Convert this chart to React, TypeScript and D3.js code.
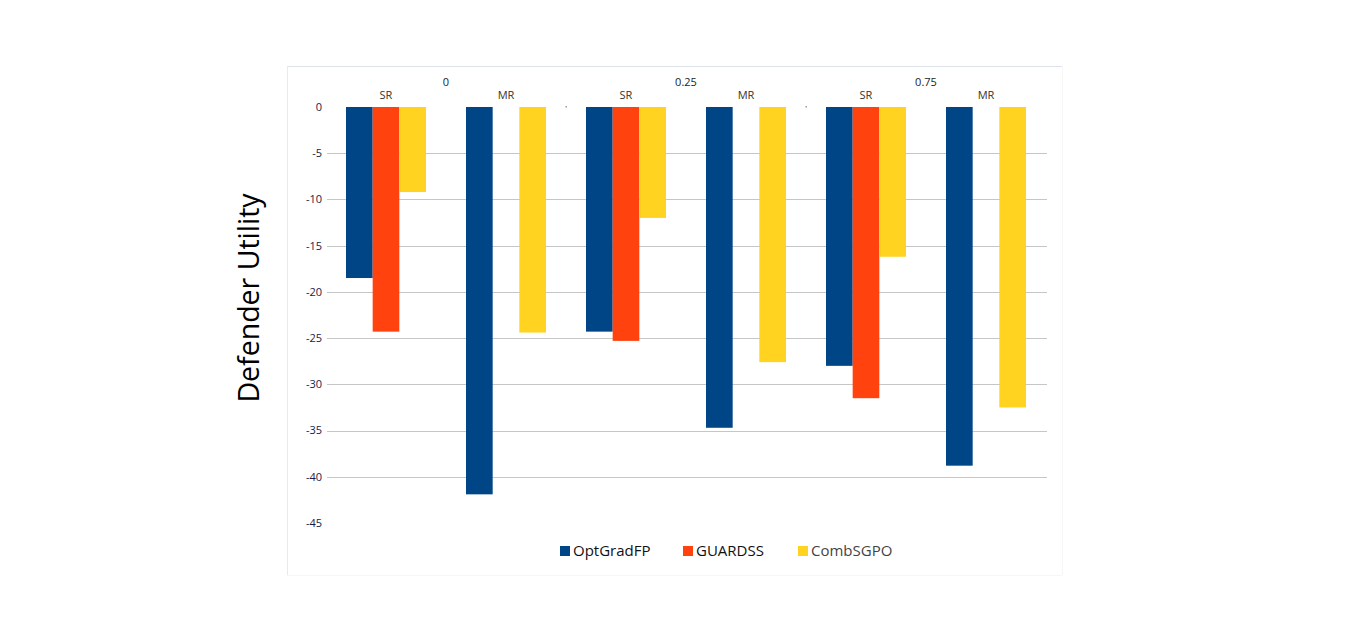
import { useEffect, useRef } from "react";
import * as d3 from "d3";

const categories = ["SR", "MR", "SR", "MR", "SR", "MR"];
const groups = ["0", "0.25", "0.75"];
const seriesNames = ["OptGradFP", "GUARDSS", "CombSGPO"];
const seriesColors = ["#004586", "#ff420e", "#ffd320"];
const optGradFP = [-18.5, -41.9, -24.3, -34.7, -28.0, -38.8];
const guardSS: (number | null)[] = [-24.3, null, -25.3, null, -31.5, null];
const combSGPO = [-9.2, -24.4, -12.0, -27.6, -16.2, -32.5];
const yTicks = [0, -5, -10, -15, -20, -25, -30, -35, -40, -45];

const W = 1350;
const H = 641;
const FONT = "'Open Sans', 'DejaVu Sans', sans-serif";

export default function App() {
  const ref = useRef<SVGSVGElement>(null);

  useEffect(() => {
    if (!ref.current) return;
    const svg = d3.select(ref.current);
    svg.selectAll("*").remove();

    const plot = { left: 327, right: 1047, top: 107, bottom: 523 };

    // chart frame (very light)
    svg.append("line").attr("x1", 287).attr("x2", 1062).attr("y1", 66.5).attr("y2", 66.5).attr("stroke", "#dde3ea");
    svg.append("line").attr("x1", 287.5).attr("x2", 287.5).attr("y1", 66).attr("y2", 575).attr("stroke", "#e6eaef");
    svg.append("line").attr("x1", 287).attr("x2", 1062).attr("y1", 575.5).attr("y2", 575.5).attr("stroke", "#f6f6f6");
    svg.append("line").attr("x1", 1062.5).attr("x2", 1062.5).attr("y1", 66).attr("y2", 575).attr("stroke", "#f6f6f6");

    const x = d3
      .scaleBand<number>()
      .domain(d3.range(categories.length))
      .range([plot.left - 1, plot.right - 1])
      .paddingInner(1 / 3)
      .paddingOuter(1 / 6);

    const xs = d3.scaleBand<number>().domain([0, 1, 2]).range([0, x.bandwidth()]);

    const y = d3.scaleLinear().domain([-45, 0]).range([plot.bottom, plot.top]);

    // gridlines
    svg
      .append("g")
      .selectAll("line")
      .data(yTicks.filter((t) => t !== 0 && t !== -45))
      .join("line")
      .attr("x1", plot.left)
      .attr("x2", plot.right)
      .attr("y1", (d) => Math.round(y(d)) + 0.5)
      .attr("y2", (d) => Math.round(y(d)) + 0.5)
      .attr("stroke", "#c6c6c6")
      .attr("stroke-width", 1);

    // y tick labels
    svg
      .append("g")
      .selectAll("text")
      .data(yTicks)
      .join("text")
      .attr("x", 322)
      .attr("y", (d) => y(d))
      .attr("dy", "0.35em")
      .attr("text-anchor", "end")
      .attr("font-family", FONT)
      .attr("font-size", 11)
      .attr("fill", "#1a1a4a")
      .text((d) => String(d));

    // y axis title
    svg
      .append("text")
      .attr("transform", `translate(259,${(plot.top + plot.bottom) / 2 - 17}) rotate(-90)`)
      .attr("text-anchor", "middle")
      .attr("font-family", FONT)
      .attr("font-size", 28.5)
      .attr("fill", "#000")
      .text("Defender Utility");

    // bars
    const series = [optGradFP, guardSS, combSGPO];
    series.forEach((vals, si) => {
      svg
        .append("g")
        .selectAll("rect")
        .data(vals.map((v, i) => ({ v, i })).filter((d) => d.v !== null))
        .join("rect")
        .attr("x", (d) => (x(d.i) as number) + (xs(si) as number))
        .attr("y", y(0))
        .attr("width", xs.bandwidth())
        .attr("height", (d) => y(d.v as number) - y(0))
        .attr("fill", seriesColors[si]);
    });

    // category labels
    svg
      .append("g")
      .selectAll("text")
      .data(categories)
      .join("text")
      .attr("x", (_, i) => (x(i) as number) + x.bandwidth() / 2)
      .attr("y", 99)
      .attr("text-anchor", "middle")
      .attr("font-family", FONT)
      .attr("font-size", 11)
      .attr("fill", "#333")
      .text((d) => d);

    // group labels
    svg
      .append("g")
      .selectAll("text")
      .data(groups)
      .join("text")
      .attr("x", (_, g) => plot.left - 1 + (g * 2 + 1) * x.step())
      .attr("y", 86)
      .attr("text-anchor", "middle")
      .attr("font-family", FONT)
      .attr("font-size", 11)
      .attr("fill", "#222")
      .text((d) => d);

    // group separator marks
    svg
      .append("g")
      .selectAll("rect")
      .data([1, 2])
      .join("rect")
      .attr("x", (g) => plot.left - 1 + g * 2 * x.step() - 0.5)
      .attr("y", y(0) - 1)
      .attr("width", 1.5)
      .attr("height", 1.5)
      .attr("fill", "#999");

    // legend
    const legendX = [560, 683, 798];
    const lg = svg
      .append("g")
      .selectAll("g")
      .data(seriesNames)
      .join("g")
      .attr("transform", (_, i) => `translate(${legendX[i]},551)`);
    lg.append("rect")
      .attr("x", 0)
      .attr("y", -5)
      .attr("width", 10)
      .attr("height", 10)
      .attr("fill", (_, i) => seriesColors[i]);
    lg.append("text")
      .attr("x", 13)
      .attr("y", 0)
      .attr("dy", "0.35em")
      .attr("font-family", FONT)
      .attr("font-size", 15)
      .attr("fill", (_, i) => (i === 2 ? "#444" : "#111"))
      .text((d) => d);
  }, []);

  return (
    <div style={{ position: "absolute", left: 0, top: 0, width: W, height: H, background: "#fff" }}>
      <svg ref={ref} width={W} height={H} />
    </div>
  );
}
